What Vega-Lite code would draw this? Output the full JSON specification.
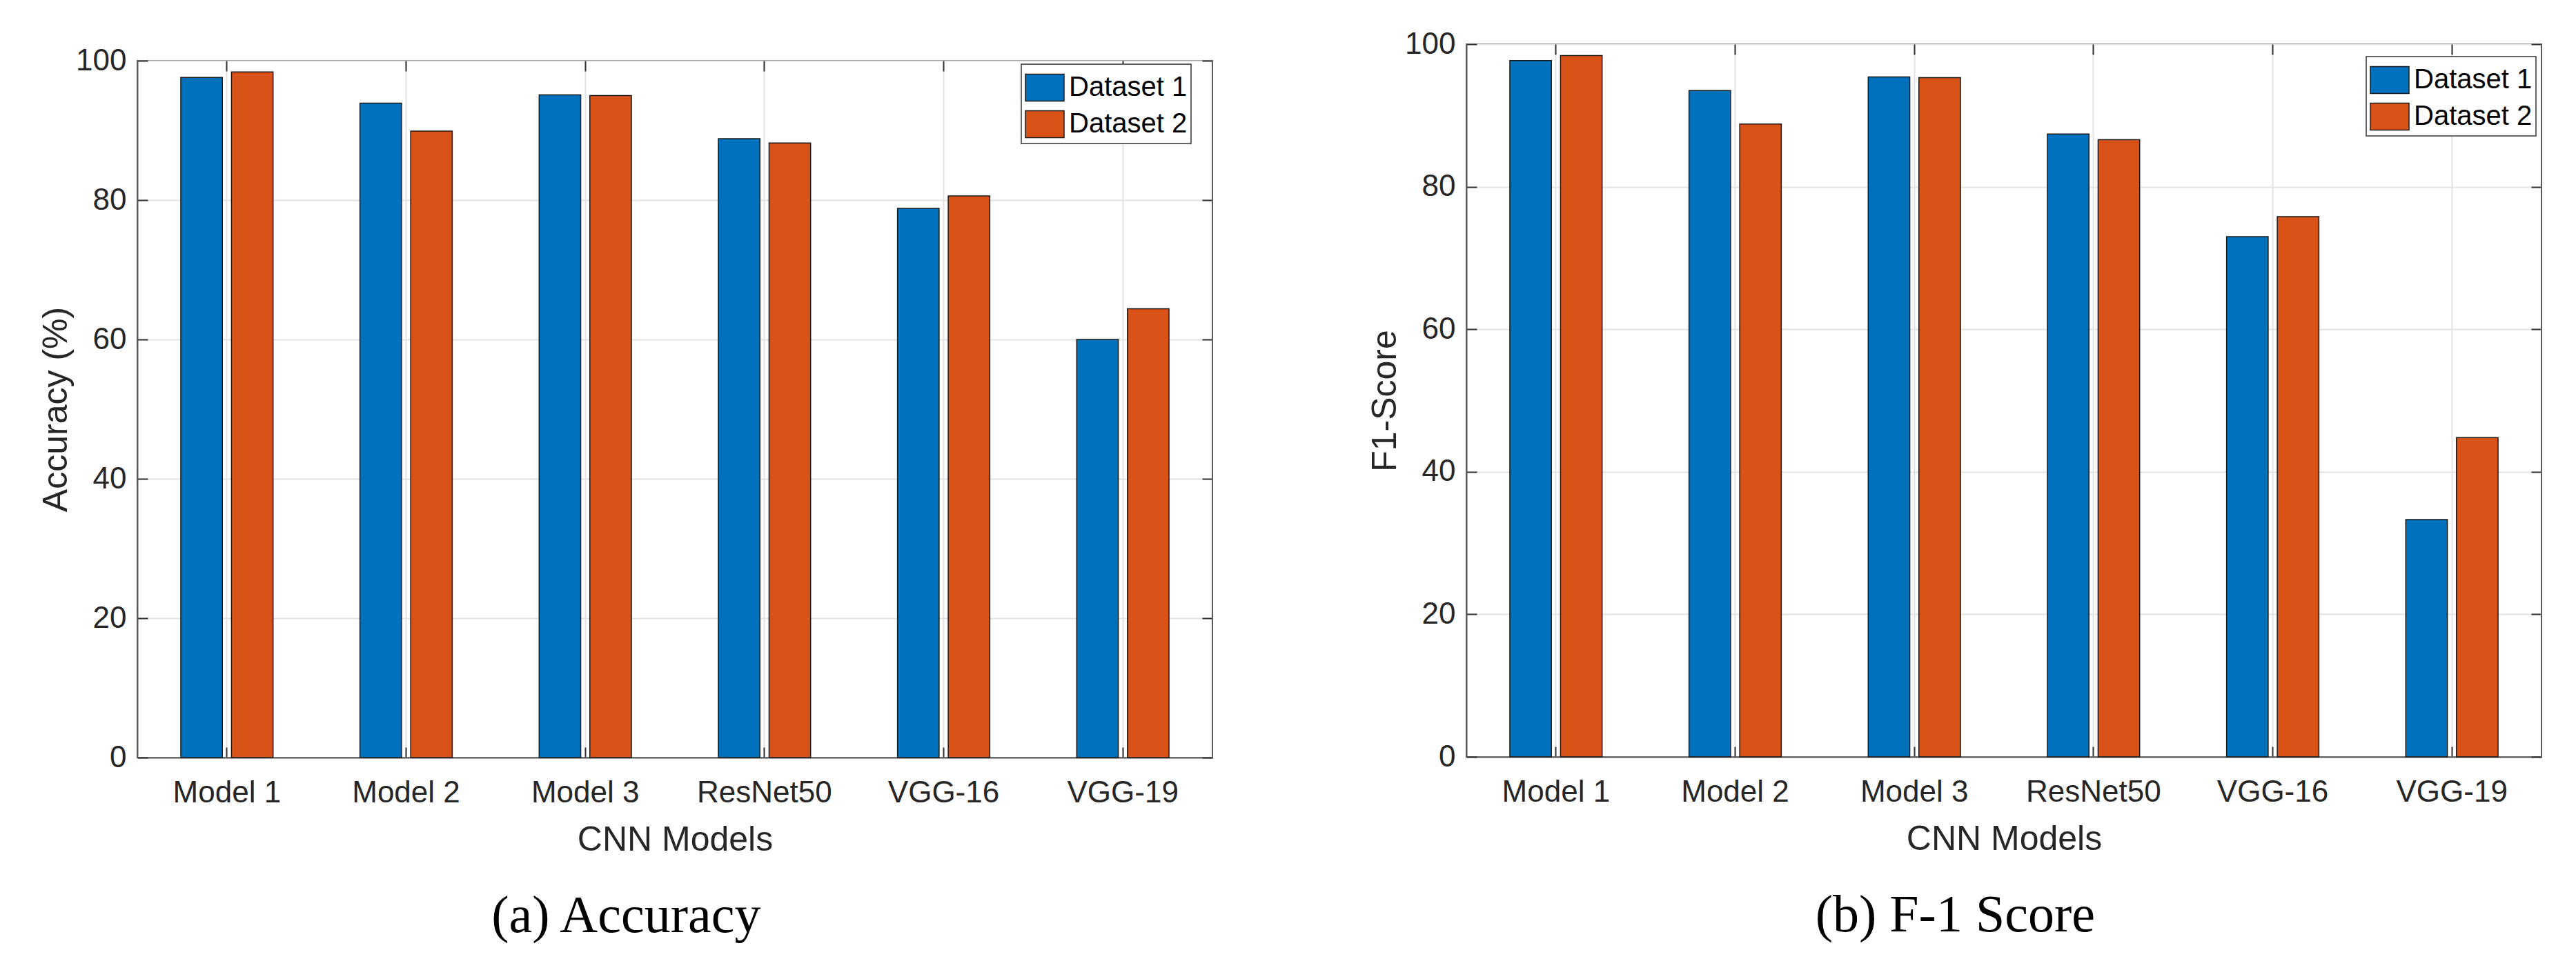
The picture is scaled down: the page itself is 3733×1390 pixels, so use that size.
{
  "$schema": "https://vega.github.io/schema/vega-lite/v6.json",
  "background": "white",
  "padding": {"left": 55, "top": 41, "right": 0, "bottom": 0},
  "datasets": {
    "scores": [
      {"Model": "Model 1", "Dataset": "Dataset 1", "Accuracy": 97.6, "F1": 97.7},
      {"Model": "Model 1", "Dataset": "Dataset 2", "Accuracy": 98.4, "F1": 98.4},
      {"Model": "Model 2", "Dataset": "Dataset 1", "Accuracy": 93.9, "F1": 93.5},
      {"Model": "Model 2", "Dataset": "Dataset 2", "Accuracy": 89.9, "F1": 88.8},
      {"Model": "Model 3", "Dataset": "Dataset 1", "Accuracy": 95.1, "F1": 95.4},
      {"Model": "Model 3", "Dataset": "Dataset 2", "Accuracy": 95.0, "F1": 95.3},
      {"Model": "ResNet50", "Dataset": "Dataset 1", "Accuracy": 88.8, "F1": 87.4},
      {"Model": "ResNet50", "Dataset": "Dataset 2", "Accuracy": 88.2, "F1": 86.6},
      {"Model": "VGG-16", "Dataset": "Dataset 1", "Accuracy": 78.8, "F1": 73.0},
      {"Model": "VGG-16", "Dataset": "Dataset 2", "Accuracy": 80.6, "F1": 75.8},
      {"Model": "VGG-19", "Dataset": "Dataset 1", "Accuracy": 60.0, "F1": 33.3},
      {"Model": "VGG-19", "Dataset": "Dataset 2", "Accuracy": 64.4, "F1": 44.8}
    ]
  },
  "data": {"name": "scores"},
  "spacing": 222,
  "resolve": {"scale": {"color": "independent"}},
  "hconcat": [
    {
      "spacing": 0,
      "vconcat": [
        {"height": 1, "width": 10, "view": {"stroke": null}, "mark": "point", "data": {"values": []}},
        {
          "width": 1558,
          "height": 1010,
          "title": {"text": "(a) Accuracy", "orient": "bottom", "frame": "bounds", "anchor": "middle", "baseline": "top", "offset": 49},
          "layer": [
            {
              "mark": {"type": "bar", "stroke": "#1a1a1a", "strokeWidth": 1.5},
              "encoding": {
                "x": {"field": "Model", "type": "nominal", "sort": null,
                  "scale": {"paddingInner": 0.485, "paddingOuter": 0.2425},
                  "axis": {"title": "CNN Models", "labelAngle": 0, "bandPosition": 0.5, "labelPadding": 44, "titlePadding": 21, "grid": true}},
                "xOffset": {"field": "Dataset", "type": "nominal", "scale": {"paddingInner": 0.18}},
                "y": {"field": "Accuracy", "type": "quantitative",
                  "scale": {"domain": [0, 100], "nice": false},
                  "axis": {"title": "Accuracy (%)", "values": [0, 20, 40, 60, 80, 100], "labelPadding": 31, "titlePadding": 3, "grid": true}},
                "color": {"field": "Dataset", "type": "nominal",
                  "scale": {"domain": ["Dataset 1", "Dataset 2"], "range": ["#0072BD", "#D95319"]},
                  "legend": {"title": null, "orient": "none", "legendX": 1281, "legendY": 29}}
              }
            },
            {
              "mark": {"type": "bar", "opacity": 0},
              "encoding": {
                "x": {"field": "Model", "type": "nominal", "sort": null,
                  "axis": {"orient": "top", "title": null, "labels": false, "grid": false, "domain": false, "bandPosition": 0.5, "minExtent": 0}},
                "xOffset": {"field": "Dataset", "type": "nominal"},
                "y": {"field": "Accuracy", "type": "quantitative",
                  "axis": {"orient": "right", "title": null, "labels": false, "grid": false, "domain": false, "values": [0, 20, 40, 60, 80, 100], "minExtent": 0}}
              }
            }
          ],
          "resolve": {"axis": {"x": "independent", "y": "independent"}}
        }
      ]
    },
    {
      "width": 1558,
      "height": 1033,
      "title": {"text": "(b) F-1 Score", "orient": "bottom", "frame": "bounds", "anchor": "middle", "baseline": "top", "offset": 49},
      "layer": [
        {
          "mark": {"type": "bar", "stroke": "#1a1a1a", "strokeWidth": 1.5},
          "encoding": {
            "x": {"field": "Model", "type": "nominal", "sort": null,
              "scale": {"paddingInner": 0.485, "paddingOuter": 0.2425},
              "axis": {"title": "CNN Models", "labelAngle": 0, "bandPosition": 0.5, "labelPadding": 44, "titlePadding": 21, "grid": true}},
            "xOffset": {"field": "Dataset", "type": "nominal", "scale": {"paddingInner": 0.18}},
            "y": {"field": "F1", "type": "quantitative",
              "scale": {"domain": [0, 100], "nice": false},
              "axis": {"title": "F1-Score", "values": [0, 20, 40, 60, 80, 100], "labelPadding": 31, "titlePadding": 3, "grid": true}},
            "color": {"field": "Dataset", "type": "nominal",
              "scale": {"domain": ["Dataset 1", "Dataset 2"], "range": ["#0072BD", "#D95319"]},
              "legend": {"title": null, "orient": "none", "legendX": 1304, "legendY": 18}}
          }
        },
        {
          "mark": {"type": "bar", "opacity": 0},
          "encoding": {
            "x": {"field": "Model", "type": "nominal", "sort": null,
              "axis": {"orient": "top", "title": null, "labels": false, "grid": false, "domain": false, "bandPosition": 0.5, "minExtent": 0}},
            "xOffset": {"field": "Dataset", "type": "nominal"},
            "y": {"field": "F1", "type": "quantitative",
              "axis": {"orient": "right", "title": null, "labels": false, "grid": false, "domain": false, "values": [0, 20, 40, 60, 80, 100], "minExtent": 0}}
          }
        }
      ],
      "resolve": {"axis": {"x": "independent", "y": "independent"}}
    }
  ],
  "config": {
    "font": "Liberation Sans",
    "view": {"stroke": "#595959", "strokeWidth": 2},
    "axis": {
      "labelFont": "Liberation Sans", "labelFontSize": 44, "labelColor": "#262626", "labelLimit": 0,
      "titleFont": "Liberation Sans", "titleFontSize": 50, "titleFontWeight": "normal", "titleColor": "#262626",
      "tickColor": "#333333", "tickSize": -15, "tickWidth": 2,
      "gridColor": "#e3e3e3", "gridWidth": 2,
      "domainColor": "#595959", "domainWidth": 2
    },
    "legend": {
      "labelFont": "Liberation Sans", "labelFontSize": 40, "labelColor": "black", "labelOffset": 6, "labelLimit": 0,
      "symbolType": "M-1,-0.7H1V0.7H-1Z", "symbolSize": 3136, "symbolOpacity": 1,
      "symbolStrokeColor": "#1a1a1a", "symbolStrokeWidth": 1.5,
      "rowPadding": 1, "padding": 5,
      "fillColor": "white", "strokeColor": "#333333", "strokeWidth": 1.5
    },
    "title": {"font": "Liberation Serif", "fontSize": 76, "fontWeight": "normal", "color": "black"}
  }
}
